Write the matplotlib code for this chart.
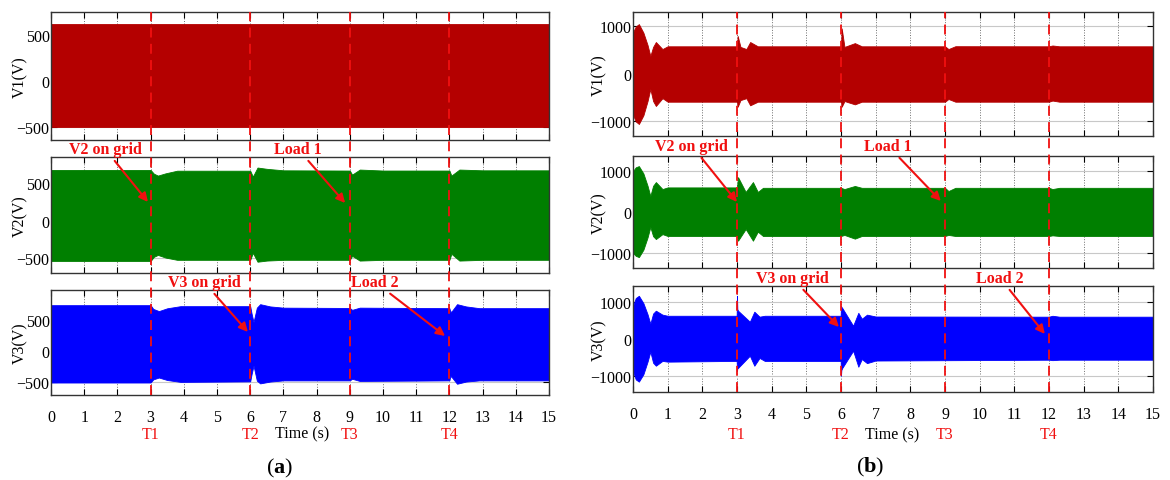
import matplotlib
matplotlib.use('Agg')
import matplotlib.pyplot as plt

plt.rcParams['font.family'] = ['Liberation Serif', 'DejaVu Serif']
plt.rcParams['mathtext.fontset'] = 'custom'
plt.rcParams['mathtext.rm'] = 'Liberation Serif'
plt.rcParams['mathtext.bf'] = 'Liberation Serif:bold'

# ---------------- data ----------------
T_EVENTS = [3, 6, 9, 12]
T_LABELS = ['T1', 'T2', 'T3', 'T4']
X_TICKS = list(range(16))

# panel (a) envelopes (time s, upper V, lower V)
a_v1_t = [0, 15]
a_v1_up = [620, 620]
a_v1_lo = [-500, -500]

a_v2_t = [0, 3.0, 3.1, 3.22, 3.45, 3.8, 6.0, 6.08, 6.22, 6.5, 7.0, 9.0, 9.07, 9.3, 10.0, 12.0, 12.06, 12.3, 13.0, 15.0]
a_v2_up = [675, 675, 625, 600, 630, 665, 665, 587, 707, 690, 670, 667, 613, 680, 667, 667, 600, 680, 670, 670]
a_v2_lo = [-535, -535, -480, -455, -490, -520, -520, -427, -545, -530, -520, -520, -467, -530, -520, -520, -440, -530, -520, -520]

a_v3_t = [0, 3.0, 3.08, 3.25, 3.5, 3.9, 6.0, 6.04, 6.1, 6.2, 6.3, 6.6, 7.0, 9.0, 9.07, 9.3, 12.0, 12.03, 12.08, 12.23, 12.5, 12.9, 15.0]
a_v3_up = [730, 730, 670, 635, 680, 714, 714, 600, 460, 690, 746, 710, 690, 685, 655, 690, 682, 620, 640, 746, 710, 682, 682]
a_v3_lo = [-510, -510, -460, -430, -470, -500, -492, -380, -238, -480, -524, -495, -476, -476, -450, -485, -476, -405, -430, -530, -495, -476, -476]

# panel (b) envelopes
b_v1_t = [0, 0.08, 0.17, 0.3, 0.42, 0.5, 0.58, 0.66, 0.85, 1.0, 3.0, 3.02, 3.1, 3.27, 3.38, 3.6, 6.0, 6.02, 6.1, 6.4, 6.6, 9.0, 9.1, 9.3, 12.0, 12.1, 12.3, 15]
b_v1_up = [870, 990, 1040, 860, 600, 370, 560, 663, 515, 573, 573, 790, 560, 515, 663, 573, 573, 950, 560, 640, 573, 573, 515, 575, 573, 590, 573, 573]
b_v1_lo = [-870, -1010, -1063, -880, -580, -326, -580, -684, -520, -594, -594, -700, -560, -520, -670, -594, -594, -700, -580, -650, -594, -594, -537, -594, -594, -570, -594, -594]

b_v2_t = [0, 0.08, 0.17, 0.3, 0.42, 0.5, 0.58, 0.66, 0.85, 1.0, 3.0, 3.03, 3.25, 3.46, 3.6, 3.75, 6.0, 6.1, 6.4, 6.6, 9.0, 9.1, 9.3, 12.0, 12.1, 12.3, 15]
b_v2_up = [1000, 1090, 1120, 940, 640, 390, 640, 730, 560, 600, 600, 850, 490, 730, 490, 590, 590, 560, 635, 590, 590, 512, 590, 590, 560, 590, 590]
b_v2_lo = [-1000, -1070, -1100, -920, -620, -366, -590, -660, -540, -585, -585, -700, -415, -700, -480, -585, -585, -560, -650, -585, -585, -560, -585, -585, -570, -585, -585]

b_v3_t = [0, 0.08, 0.17, 0.3, 0.42, 0.5, 0.58, 0.66, 0.85, 1.0, 2.99, 3.0, 3.01, 3.03, 3.37, 3.5, 3.65, 3.8, 5.99, 6.0, 6.01, 6.03, 6.35, 6.5, 6.6, 6.75, 7.0, 12.0, 12.1, 12.3, 15]
b_v3_up = [890, 1100, 1160, 960, 660, 405, 680, 757, 650, 620, 620, 1160, 800, 757, 460, 730, 595, 620, 620, 890, 860, 840, 350, 700, 540, 650, 600, 595, 620, 595, 595]
b_v3_lo = [-890, -1100, -1160, -960, -620, -350, -650, -730, -600, -620, -600, -865, -800, -790, -460, -730, -520, -600, -600, -1000, -850, -800, -325, -757, -550, -660, -590, -568, -580, -568, -568]

COLORS = ['#B40000', '#007F00', '#0000FF']
YLABELS = ['V1(V)', 'V2(V)', 'V3(V)']

# ---------------- layout ----------------
W, H = 1170, 481
fig = plt.figure(figsize=(W / 100, H / 100), dpi=100)


def px_axes(x0, x1, y0, y1, **kw):
    return fig.add_axes([x0 / W, 1 - y1 / H, (x1 - x0) / W, (y1 - y0) / H], **kw)


panels = [
    dict(x=(51, 549), rows=[(13, 141), (158, 274), (291, 396)],
         ylims=[(-640, 750), (-695, 847), (-710, 973)],
         yticks=[-500, 0, 500],
         data=[(a_v1_t, a_v1_up, a_v1_lo), (a_v2_t, a_v2_up, a_v2_lo), (a_v3_t, a_v3_up, a_v3_lo)],
         ylab_x=-0.045, tlab_y=-0.37, time_x=7.56, tag='($\\mathbf{a}$)', tag_xy=(280, 468),
         notes=[(1, 'V2 on grid', (2.92, 249), (1.63, 953)),
                (1, 'Load 1', (8.86, 235), (7.44, 953)),
                (2, 'V3 on grid', (5.93, 300), (4.61, 1101)),
                (2, 'Load 2', (11.87, 236), (9.76, 1101))]),
    dict(x=(633, 1153), rows=[(13, 137), (157, 269), (287, 393)],
         ylims=[(-1316, 1295), (-1366, 1366), (-1440, 1424)],
         yticks=[-1000, 0, 1000],
         data=[(b_v1_t, b_v1_up, b_v1_lo), (b_v2_t, b_v2_up, b_v2_lo), (b_v3_t, b_v3_up, b_v3_lo)],
         ylab_x=-0.05, tlab_y=-0.40, time_x=7.47, tag='($\\mathbf{b}$)', tag_xy=(870, 467),
         notes=[(1, 'V2 on grid', (3.0, 244), (1.70, 1610)),
                (1, 'Load 1', (8.88, 268), (7.36, 1610)),
                (2, 'V3 on grid', (5.94, 316), (4.59, 1640)),
                (2, 'Load 2', (11.88, 127), (10.59, 1640))]),
]

for p in panels:
    x0, x1 = p['x']
    axes = []
    for i, (y0, y1) in enumerate(p['rows']):
        ax = px_axes(x0, x1, y0, y1)
        t, up, lo = p['data'][i]
        ax.fill_between(t, lo, up, color=COLORS[i], linewidth=0.6, edgecolor=COLORS[i], zorder=1)
        ax.set_xlim(0, 15)
        ax.set_ylim(*p['ylims'][i])
        ax.set_xticks(X_TICKS)
        ax.set_yticks(p['yticks'])
        ax.set_axisbelow(True)
        ax.grid(True, axis='x', ls=':', color='#6e6e6e', lw=0.7)
        ax.grid(True, axis='y', ls='-', color='#c8c8c8', lw=0.8)
        ax.tick_params(direction='in', top=True, right=True, length=4, width=0.8,
                       labelsize=11.5, colors='black')
        ax.tick_params(axis='y', pad=1)
        ax.tick_params(axis='x', pad=10, labelbottom=(i == 2))
        for s in ax.spines.values():
            s.set_color('#333333')
            s.set_linewidth(1.0)
        ax.set_ylabel(YLABELS[i], fontsize=11.5, labelpad=0)
        ax.yaxis.set_label_coords(p['ylab_x'], 0.5)
        axes.append(ax)

    bottom = axes[2]
    for t, lab in zip(T_EVENTS, T_LABELS):
        bottom.text(t, p['tlab_y'], lab, transform=bottom.get_xaxis_transform(),
                    ha='center', va='center', color='#F01010', fontsize=11.5)
    bottom.text(p['time_x'], p['tlab_y'], 'Time (s)', transform=bottom.get_xaxis_transform(),
                ha='center', va='center', color='black', fontsize=11.5)

    for row, txt, xy, xyt in p['notes']:
        axes[row].annotate(txt, xy=xy, xytext=xyt, ha='center', va='center',
                           color='#F01010', fontsize=11.5, fontweight='bold',
                           annotation_clip=False, zorder=6,
                           arrowprops=dict(arrowstyle='-|>', color='#F01010', lw=1.5,
                                           shrinkA=1, shrinkB=0, mutation_scale=13))

    # dashed event lines across the three stacked plots
    top_y, bot_y = p['rows'][0][0], p['rows'][2][1]
    ov = px_axes(x0, x1, top_y, bot_y)
    ov.set_xlim(0, 15)
    ov.set_ylim(0, 1)
    ov.axis('off')
    ov.patch.set_alpha(0)
    for t in T_EVENTS:
        ov.axvline(t, color='#F01010', lw=1.3, ls=(0, (5.5, 3.5)))

    fig.text(p['tag_xy'][0] / W, 1 - p['tag_xy'][1] / H, p['tag'],
             ha='center', va='center', fontsize=16)

fig.savefig('out.png', dpi=100)
